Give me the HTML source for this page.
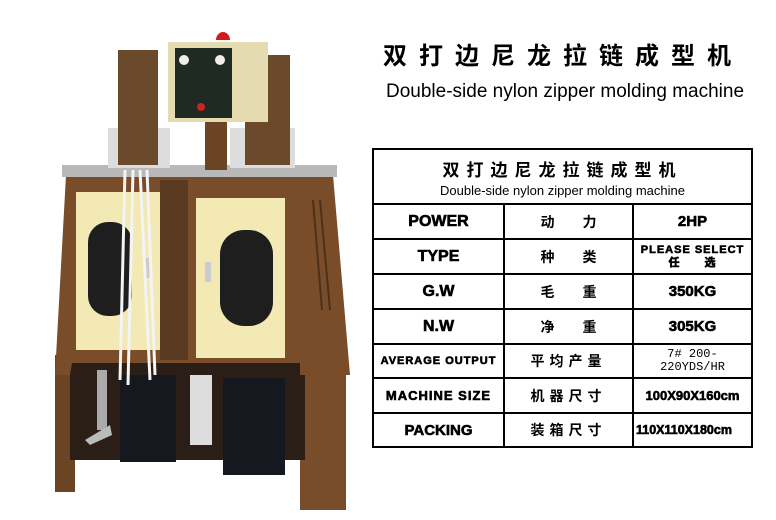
<!DOCTYPE html>
<html><head><meta charset="utf-8"><style>
body{margin:0;width:776px;height:520px;background:#fff;position:relative;overflow:hidden;font-family:"Liberation Sans","Noto Sans CJK SC",sans-serif}
.t{position:absolute;white-space:nowrap}
table{position:absolute;left:372px;top:148px;width:381px;height:298px;border-collapse:collapse;border:2px solid #000}
td{border:2px solid #000;text-align:center;padding:0;font-weight:bold;color:#000}
.b{-webkit-text-stroke:0.6px #000}
</style></head><body>
<div class="t" style="left:383px;top:36px;font-size:24px;font-weight:bold;letter-spacing:12px;font-family:'Noto Sans CJK SC',sans-serif">双打边尼龙拉链成型机</div>
<div class="t" style="left:386px;top:81px;font-size:19px">Double-side nylon zipper molding machine</div>
<table>
<tr style="height:55px"><td colspan="3"><div style="font-size:17px;letter-spacing:7px;font-family:'Noto Sans CJK SC',sans-serif">双打边尼龙拉链成型机</div><div style="font-size:13px;font-weight:normal;margin-top:2px">Double-side nylon zipper molding machine</div></td></tr>
<tr style="height:35px"><td class="b" style="width:129px;font-size:16px">POWER</td><td style="width:127px;font-size:14px">动&emsp;&emsp;力</td><td class="b" style="font-size:15px">2HP</td></tr>
<tr style="height:35px"><td class="b" style="font-size:16px">TYPE</td><td style="font-size:14px">种&emsp;&emsp;类</td><td class="b" style="font-size:11px;letter-spacing:1px;line-height:13px">PLEASE SELECT<br>任&emsp;&emsp;选</td></tr>
<tr style="height:35px"><td class="b" style="font-size:16px">G.W</td><td style="font-size:14px">毛&emsp;&emsp;重</td><td class="b" style="font-size:15px">350KG</td></tr>
<tr style="height:35px"><td class="b" style="font-size:16px">N.W</td><td style="font-size:14px">净&emsp;&emsp;重</td><td class="b" style="font-size:15px">305KG</td></tr>
<tr style="height:34px"><td class="b" style="font-size:11px;letter-spacing:1px">AVERAGE OUTPUT</td><td style="font-size:14px;letter-spacing:5px">平均产量</td><td style="font-size:12px;font-weight:normal;line-height:13px;font-family:'Liberation Mono',monospace">7# 200-<br>220YDS/HR</td></tr>
<tr style="height:35px"><td class="b" style="font-size:13px;letter-spacing:1px">MACHINE SIZE</td><td style="font-size:14px;letter-spacing:5px">机器尺寸</td><td class="b" style="font-size:13px">100X90X160cm</td></tr>
<tr style="height:34px"><td class="b" style="font-size:15px">PACKING</td><td style="font-size:14px;letter-spacing:5px">装箱尺寸</td><td class="b" style="font-size:12.5px;text-align:left;padding-left:2px">110X110X180cm</td></tr>
</table>
<svg style="position:absolute;left:0;top:0" width="370" height="520">
<rect x="55" y="355" width="20" height="137" fill="#6b4424"/>
<rect x="300" y="355" width="46" height="155" fill="#7a4d2a"/>
<rect x="70" y="360" width="235" height="100" fill="#2a1e16"/>
<polygon points="66,175 333,175 350,375 300,375 300,363 72,363 70,375 55,375" fill="#7a4d2a"/>
<rect x="62" y="165" width="275" height="12" fill="#b8b8b8"/>
<rect x="76" y="192" width="87" height="158" fill="#f2e9b4"/>
<rect x="196" y="198" width="89" height="160" fill="#f2e9b4"/>
<rect x="88" y="222" width="44" height="94" rx="20" fill="#1e1e1e"/>
<rect x="220" y="230" width="53" height="96" rx="24" fill="#1e1e1e"/>
<rect x="145" y="258" width="6" height="20" fill="#ccc"/>
<rect x="205" y="262" width="6" height="20" fill="#ccc"/>
<g stroke="#4d3018" stroke-width="2"><line x1="313" y1="200" x2="322" y2="310"/><line x1="320" y1="200" x2="330" y2="310"/></g>
<rect x="120" y="375" width="56" height="87" fill="#15191f"/>
<rect x="223" y="378" width="62" height="97" fill="#15191f"/>
<rect x="97" y="370" width="10" height="60" fill="#aaa"/><polygon points="85,440 110,425 112,435 90,445" fill="#bbb"/>
<rect x="190" y="375" width="22" height="70" fill="#ddd"/>
<rect x="160" y="180" width="28" height="180" fill="#5a3a20"/>
<rect x="108" y="128" width="62" height="40" fill="#ddd"/>
<rect x="230" y="128" width="65" height="40" fill="#ddd"/>
<rect x="118" y="50" width="40" height="115" fill="#6b4a2c"/>
<rect x="245" y="55" width="45" height="110" fill="#6b4a2c"/>
<rect x="205" y="115" width="22" height="55" fill="#6b4424"/>
<rect x="168" y="42" width="100" height="80" fill="#e4dcb0"/>
<rect x="175" y="48" width="57" height="70" fill="#1f2a22"/>
<circle cx="184" cy="60" r="5" fill="#eee"/><circle cx="220" cy="60" r="5" fill="#eee"/>
<circle cx="201" cy="107" r="4" fill="#c22"/>
<path d="M216,40 a7,8 0 0 1 14,0 z" fill="#d21a1a"/>
<g fill="none" stroke="#f4f4f4" stroke-width="3"><path d="M125,170 L120,380 M133,170 L128,385 M140,170 L150,380 M147,170 L155,375"/></g>
</svg>
</body></html>
